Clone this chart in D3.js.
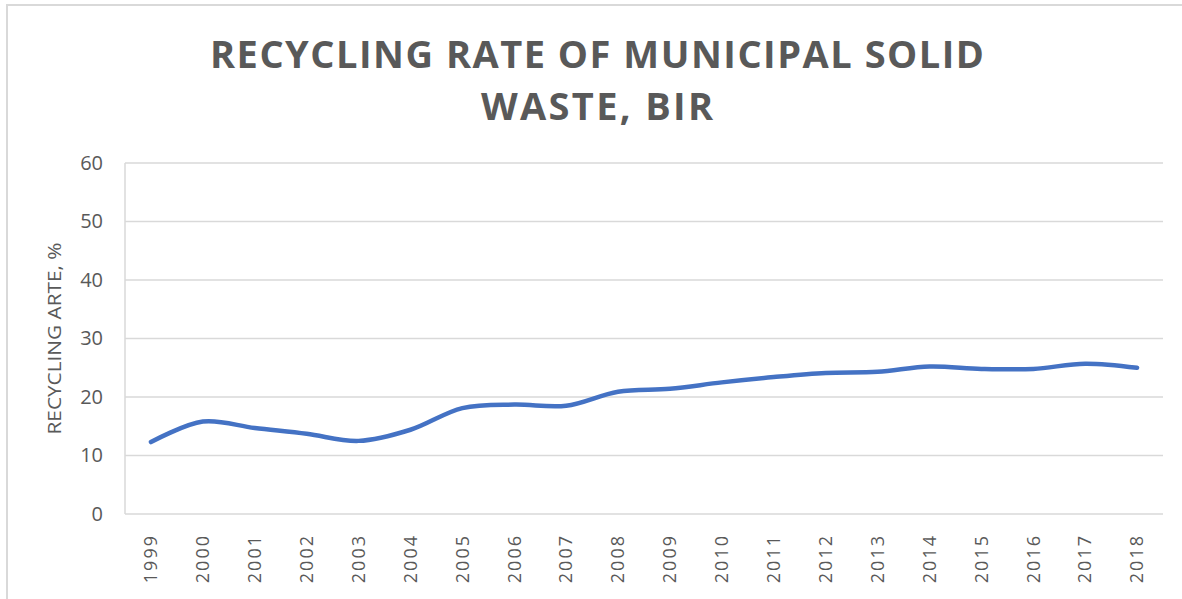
<!DOCTYPE html>
<html>
<head>
<meta charset="utf-8">
<script src="https://cdn.jsdelivr.net/npm/d3@7"></script>
<style>
  body { margin: 0; background: #fff; }
  svg { display: block; font-family: "Open Sans", sans-serif; }
</style>
</head>
<body>
<div id="chart"></div>
<script>
var years = ['1999', '2000', '2001', '2002', '2003', '2004', '2005', '2006', '2007', '2008',
             '2009', '2010', '2011', '2012', '2013', '2014', '2015', '2016', '2017', '2018'];
var rates = [12.3, 15.8, 14.7, 13.7, 12.5, 14.4, 18.1, 18.7, 18.5, 20.9,
             21.4, 22.5, 23.4, 24.1, 24.3, 25.2, 24.8, 24.8, 25.7, 25.0];
var yTicks = [0, 10, 20, 30, 40, 50, 60];
var titleLines = ['RECYCLING RATE OF MUNICIPAL SOLID', 'WASTE, BIR'];
var yTitle = 'RECYCLING ARTE, %';

var W = 1182, H = 599;
var margin = { top: 163, right: 19, bottom: 85, left: 125 };
var grey = '#595959', gridCol = '#d9d9d9';

var svg = d3.select('#chart').append('svg')
  .attr('width', W).attr('height', H);

// chart frame
svg.append('rect')
  .attr('x', 7).attr('y', 5)
  .attr('width', W + 20).attr('height', H + 20)
  .attr('fill', 'none').attr('stroke', gridCol).attr('stroke-width', 2);

var x = d3.scaleBand().domain(years)
  .range([margin.left, W - margin.right]);
var y = d3.scaleLinear().domain([0, 60])
  .range([H - margin.bottom, margin.top]);

// gridlines
svg.append('g').selectAll('line')
  .data(yTicks).enter().append('line')
  .attr('x1', margin.left).attr('x2', W - margin.right)
  .attr('y1', function (d) { return y(d); })
  .attr('y2', function (d) { return y(d); })
  .attr('stroke', gridCol).attr('stroke-width', 1.5);

svg.append('line')
  .attr('x1', margin.left).attr('x2', margin.left)
  .attr('y1', y(60)).attr('y2', y(0))
  .attr('stroke', gridCol).attr('stroke-width', 1.5);

// y axis labels
var yAxis = svg.append('g')
  .attr('transform', 'translate(' + (margin.left - 22) + ',0)')
  .call(d3.axisLeft(y).tickValues(yTicks).tickSize(0).tickPadding(0));
yAxis.select('.domain').remove();
yAxis.selectAll('text')
  .attr('fill', grey).style('font-size', '20px')
  .style('font-family', '"Open Sans", sans-serif');

// x axis labels
var xAxis = svg.append('g')
  .attr('transform', 'translate(0,' + (y(0) + 18) + ')')
  .call(d3.axisBottom(x).tickSize(0).tickPadding(0));
xAxis.select('.domain').remove();
xAxis.selectAll('text')
  .attr('fill', grey).style('font-size', '18px')
  .style('font-family', '"Open Sans", sans-serif')
  .style('letter-spacing', '2px')
  .attr('transform', 'rotate(-90)')
  .attr('text-anchor', 'end')
  .attr('dy', '0.35em')
  .attr('x', -2).attr('y', 0);

// axis title
svg.append('text')
  .attr('transform', 'translate(61,' + ((y(0) + y(60)) / 2) + ') rotate(-90)')
  .attr('text-anchor', 'middle')
  .attr('fill', grey)
  .style('font-size', '18px')
  .attr('textLength', 192).attr('lengthAdjust', 'spacingAndGlyphs')
  .text(yTitle);

// title
svg.append('g').selectAll('text')
  .data(titleLines).enter().append('text')
  .attr('x', 597)
  .attr('y', function (d, i) { return 68 + i * 52; })
  .attr('text-anchor', 'middle')
  .attr('fill', grey)
  .style('font-family', '"Liberation Sans Narrow", "Open Sans", sans-serif')
  .style('font-size', '38px').style('font-weight', 'bold')
  .attr('textLength', function (d, i) { return i === 0 ? 774 : 232; })
  .attr('lengthAdjust', 'spacing')
  .text(function (d) { return d; });

// smoothed line
var line = d3.line()
  .x(function (d, i) { return x(years[i]) + x.bandwidth() / 2; })
  .y(function (d) { return y(d); })
  .curve(d3.curveCatmullRom.alpha(0.5));

svg.append('path')
  .datum(rates)
  .attr('d', line)
  .attr('fill', 'none')
  .attr('stroke', '#4472c4')
  .attr('stroke-width', 4.5)
  .attr('stroke-linecap', 'round');
</script>
</body>
</html>
